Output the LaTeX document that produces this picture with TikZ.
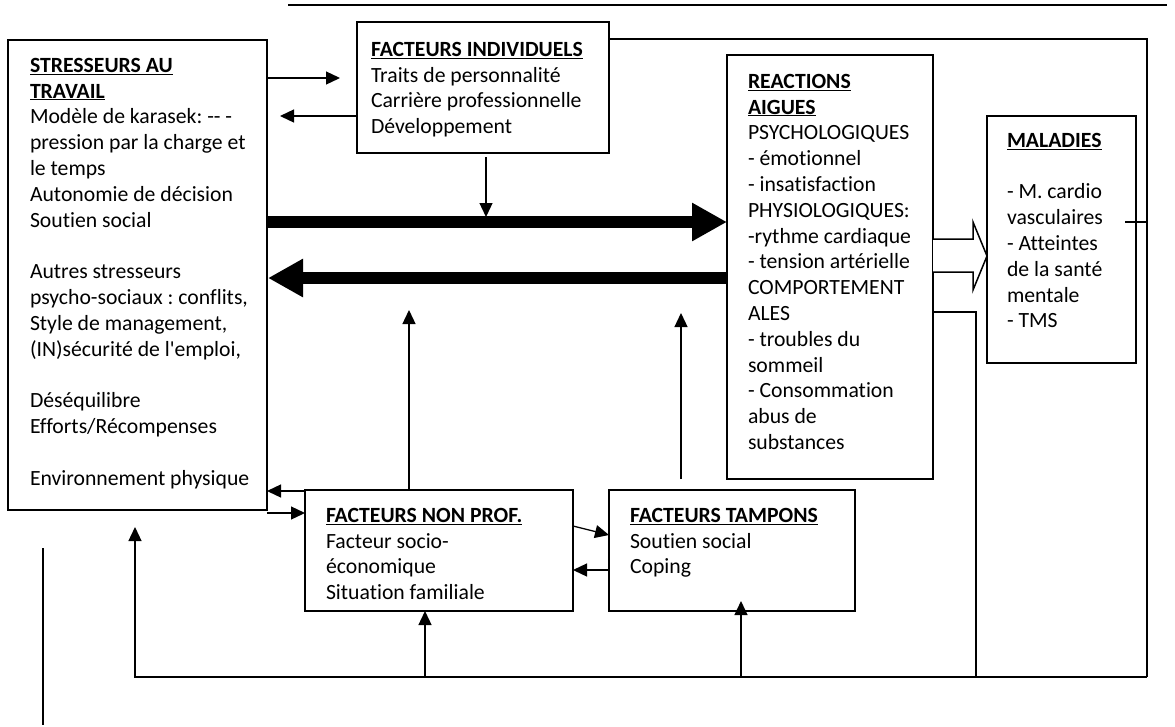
\documentclass[tikz,border=0pt]{standalone}
\usepackage{fontspec}
\setmainfont{Carlito}[Ligatures=NoCommon]
\usetikzlibrary{arrows.meta,calc}
\newcommand{\mytitle}[1]{\underline{\textbf{#1}}}
\frenchspacing
\begin{document}
\begin{tikzpicture}[x=1pt,y=-1pt,
  box/.style={draw,line width=1.6pt,inner sep=0pt,outer sep=0pt},
  txt/.style={anchor=north west,inner sep=0pt,outer sep=0pt,align=left,font=\fontsize{21.7}{25.8}\selectfont\frenchspacing},
  arr/.style={line width=1.3pt,-{Triangle[length=14pt,width=13pt]}},
  ln/.style={line width=1.3pt},
  big/.style={line width=12pt,-{Triangle[length=35pt,width=36pt]}}
]
\useasboundingbox (0,0) rectangle (1175,726);

% boxes
\node[box,minimum width=259pt,minimum height=470pt] (stress) at (137.5,275) {};
\node[box,minimum width=252pt,minimum height=131pt] (indiv) at (483,87.5) {};
\node[box,minimum width=206pt,minimum height=424pt] (react) at (830,267) {};
\node[box,minimum width=149pt,minimum height=247pt] (mal) at (1061.5,239.5) {};
\node[box,minimum width=268pt,minimum height=121pt] (nonprof) at (439,550.5) {};
\node[box,minimum width=246pt,minimum height=121pt] (tamp) at (732,550.5) {};

% texts
\node[txt] (tstress) at (30,58) {\mytitle{STRESSEURS AU}\\ \mytitle{TRAVAIL}\\ Modèle de karasek: -{}- -\\ pression par la charge et\\ le temps\\ Autonomie de décision\\ Soutien social\\ \strut\\ Autres stresseurs\\ psycho-sociaux : conflits,\\ Style de management,\\ (IN)sécurité de l\textquotesingle emploi,\\ \strut\\ Déséquilibre\\ Efforts/Récompenses\\ \strut\\ Environnement physique};
\node[txt] (tindiv) at (371,42) {\mytitle{FACTEURS INDIVIDUELS}\\ Traits de personnalité\\ Carrière professionnelle\\ Développement};
\node[txt] (treact) at (748,74) {\mytitle{REACTIONS}\\ \mytitle{AIGUES}\\ PSYCHOLOGIQUES\\ - émotionnel\\ - insatisfaction\\ PHYSIOLOGIQUES:\\ -rythme cardiaque\\ - tension artérielle\\ COMPORTEMENT\\ ALES\\ - troubles du\\ sommeil\\ - Consommation\\ abus de\\ substances};
\node[txt] (tmal) at (1007,133) {\mytitle{MALADIES}\\ \strut\\ - M. cardio\\ vasculaires\\ - Atteintes\\ de la santé\\ mentale\\ - TMS};
\node[txt] (tnonprof) at (326,508) {\mytitle{FACTEURS NON PROF.}\\ Facteur socio-\\ économique\\ Situation familiale};
\node[txt] (ttamp) at (630,508) {\mytitle{FACTEURS TAMPONS}\\ Soutien social\\ Coping};

% free coordinates
\coordinate (topL) at (288,5);
\coordinate (topR) at (1167,5);
\coordinate (rc) at (1147,677);
\coordinate (vl1) at (43,548);
\coordinate (vl2) at (43,725);

% top rule and lone line
\draw[line width=2.5pt] (topL) -- (topR);
\draw[line width=1.6pt] (vl1) -- (vl2);

% stresseurs <-> individuels
\draw[arr] (stress.east |- 0,78) -- (340,78);
\draw[arr] (indiv.west |- 0,116) -- (280,116);
\draw[arr] (486,157) -- (486,217);

% big arrows
\draw[big] (stress.east |- 0,222) -- (react.west |- 0,222);
\draw[big] (react.west |- 0,278) -- (268,278);

% hollow arrow reactions -> maladies
\draw[line width=1.5pt,fill=white] (react.east |- 0,239) -- (973,239) -- (973,222) -- (mal.west |- 0,256) -- (973,290) -- (973,272) -- (react.east |- 0,272);

% outer loop
\draw[ln] (indiv.east |- 0,39) -| (rc);
\draw[arr] (rc) -| (135,527);
\draw[ln] (1125,222) -- (rc |- 0,222);
\draw[ln] (react.east |- 0,312) -| (976,677);

% arrows up from bottom line
\draw[arr] (425,677) -- (nonprof.south -| 425,0);
\draw[arr] (741,677) -- (741,601);

% non prof connections
\draw[arr] (409,490) -- (409,310);
\draw[arr] (681,479) -- (681,313);
\draw[arr] (nonprof.west |- 0,491) -- (stress.east |- 0,491);
\draw[arr] (stress.east |- 0,513) -- (nonprof.west |- 0,513);
\draw[arr] (nonprof.east |- 0,526) -- (tamp.west |- 0,535);
\draw[arr] (tamp.west |- 0,570) -- (nonprof.east |- 0,570);
\end{tikzpicture}
\end{document}
